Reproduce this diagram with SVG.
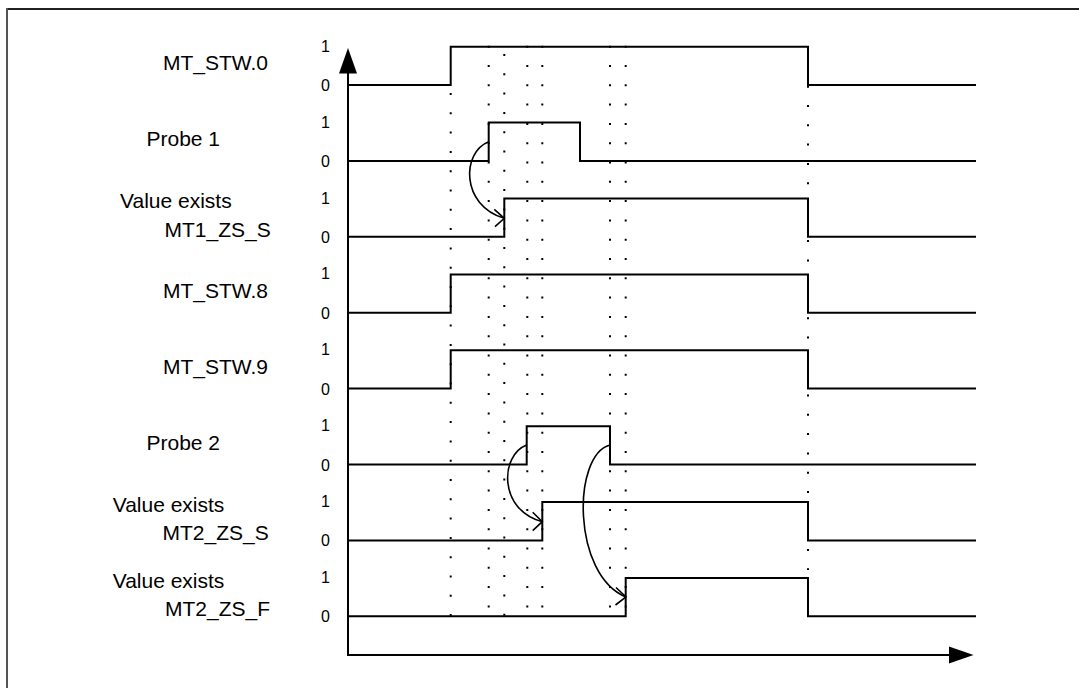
<svg xmlns="http://www.w3.org/2000/svg" width="1079" height="688" viewBox="0 0 1079 688">
<style>
.lbl{font-family:"Liberation Sans",Arial,sans-serif;font-size:21px;fill:#000}
.dig{font-family:"Liberation Sans",Arial,sans-serif;font-size:16px;fill:#000}
.sig{fill:none;stroke:#000;stroke-width:2}
.dot{fill:none;stroke:#000;stroke-width:2;stroke-dasharray:2 17.3}
.crv{fill:none;stroke:#000;stroke-width:1.6}
</style>
<rect x="0" y="0" width="1079" height="688" fill="#fff"/>
<g id="frame">
<line x1="7" y1="9" x2="1079" y2="9" stroke="#222" stroke-width="2"/>
<line x1="7" y1="8" x2="7" y2="688" stroke="#555" stroke-width="2"/>
</g>
<g id="labels">
<text class="lbl" x="163" y="70">MT_STW.0</text>
<text class="lbl" x="146.5" y="146">Probe 1</text>
<text class="lbl" x="120" y="208">Value exists</text>
<text class="lbl" x="164.5" y="237">MT1_ZS_S</text>
<text class="lbl" x="163" y="297.5">MT_STW.8</text>
<text class="lbl" x="163" y="373.5">MT_STW.9</text>
<text class="lbl" x="146.5" y="450">Probe 2</text>
<text class="lbl" x="112.7" y="511.5">Value exists</text>
<text class="lbl" x="162.5" y="539.5">MT2_ZS_S</text>
<text class="lbl" x="112.7" y="587.5">Value exists</text>
<text class="lbl" x="165" y="615.5">MT2_ZS_F</text>
</g>
<g id="levels">
<text class="dig" x="321" y="51.7">1</text><text class="dig" x="321" y="91">0</text>
<text class="dig" x="321" y="127.6">1</text><text class="dig" x="321" y="166.9">0</text>
<text class="dig" x="321" y="203.5">1</text><text class="dig" x="321" y="242.8">0</text>
<text class="dig" x="321" y="279.4">1</text><text class="dig" x="321" y="318.7">0</text>
<text class="dig" x="321" y="355.3">1</text><text class="dig" x="321" y="394.6">0</text>
<text class="dig" x="321" y="431.2">1</text><text class="dig" x="321" y="470.5">0</text>
<text class="dig" x="321" y="507.1">1</text><text class="dig" x="321" y="546.4">0</text>
<text class="dig" x="321" y="583">1</text><text class="dig" x="321" y="622.3">0</text>
</g>
<g id="axes">
<line x1="348" y1="70" x2="348" y2="655" stroke="#000" stroke-width="2"/>
<polygon points="348,48 339,73.5 357,73.5" fill="#000"/>
<line x1="347" y1="655" x2="952" y2="655" stroke="#000" stroke-width="2"/>
<polygon points="973.5,655 949,646.5 949,663.5" fill="#000"/>
</g>
<g id="sig-mt-stw0"><path class="sig" d="M348,85 H450.7 V46.7 H808 V85 H976"/></g>
<g id="sig-probe1"><path class="sig" d="M348,160.9 H488.7 V122.6 H580 V160.9 H976"/></g>
<g id="sig-mt1-zs-s"><path class="sig" d="M348,236.8 H504.3 V198.5 H808 V236.8 H976"/></g>
<g id="sig-mt-stw8"><path class="sig" d="M348,312.7 H450.7 V274.4 H808 V312.7 H976"/></g>
<g id="sig-mt-stw9"><path class="sig" d="M348,388.6 H450.7 V350.3 H808 V388.6 H976"/></g>
<g id="sig-probe2"><path class="sig" d="M348,464.5 H526.7 V426.2 H610 V464.5 H976"/></g>
<g id="sig-mt2-zs-s"><path class="sig" d="M348,540.4 H542.3 V502.1 H808 V540.4 H976"/></g>
<g id="sig-mt2-zs-f"><path class="sig" d="M348,616.3 H625.7 V578 H808 V616.3 H976"/></g>
<g id="guides">
<line class="dot" x1="450.7" y1="93" x2="450.7" y2="616"/>
<line class="dot" x1="488.7" y1="45.7" x2="488.7" y2="609"/>
<line class="dot" x1="504.3" y1="54" x2="504.3" y2="616"/>
<line class="dot" x1="527.3" y1="45.7" x2="527.3" y2="609"/>
<line class="dot" x1="542.3" y1="45.7" x2="542.3" y2="609"/>
<line class="dot" x1="610" y1="45.7" x2="610" y2="609"/>
<line class="dot" x1="625.7" y1="45.7" x2="625.7" y2="609"/>
<line class="dot" x1="808" y1="85.7" x2="808" y2="570"/>
</g>
<g id="connectors">
<path class="crv" d="M488.7,141.7 C462,152 460,205 504.3,218.3"/>
<polyline class="crv" points="494.3,209.3 504.3,218.3 495,226.7"/>
<path class="crv" d="M526.7,445 C500,455 498,510 542.3,521.7"/>
<polyline class="crv" points="532.7,512.3 542.3,521.7 532.7,530.7"/>
<path class="crv" d="M610,445 C572,455 572,575 626,597"/>
<polyline class="crv" points="616,587.5 626,597 615.5,605"/>
</g>
</svg>
